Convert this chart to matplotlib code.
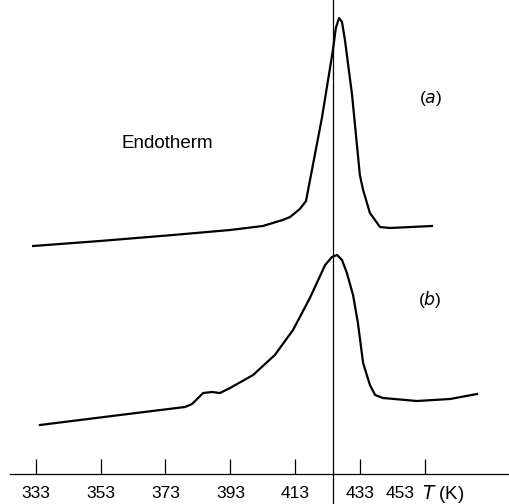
import numpy as np
import matplotlib.pyplot as plt
import matplotlib.transforms as mtransforms

plt.rcParams['font.family'] = ['Liberation Sans', 'DejaVu Sans']

# temperature (K) and heat flow (arbitrary units, endotherm up)
T_a = [332.2, 352.8, 375.3, 392.9, 403.0, 409.1, 411.4, 414.4, 416.3, 421.2, 424.6,
       425.5, 426.5, 427.4, 428.3, 430.5, 432.9, 433.9, 436.0, 439.1, 442.2, 455.1]
q_a = [22.8, 23.3, 23.9, 24.4, 24.8, 25.4, 25.7, 26.5, 27.3, 35.6, 42.4,
       44.6, 45.6, 45.2, 43.4, 37.9, 29.9, 28.4, 26.1, 24.7, 24.6, 24.8]

T_b = [334.3, 359.0, 379.0, 381.2, 384.6, 387.3, 389.8, 392.9, 400.0, 406.7, 412.3,
       417.5, 422.2, 424.3, 425.9, 427.4, 428.9, 430.8, 432.3, 433.9, 436.0, 437.6,
       440.0, 450.5, 460.7, 469.0]
q_b = [4.9, 5.9, 6.7, 7.0, 8.1, 8.2, 8.1, 8.6, 9.9, 11.9, 14.4,
       17.6, 20.9, 21.7, 21.9, 21.4, 20.1, 17.9, 15.1, 11.1, 8.9, 7.9,
       7.6, 7.3, 7.5, 8.0]

ticks = [333, 353, 373, 393, 413, 433, 453]
T_mark = 424.6

fig = plt.figure(figsize=(5.09, 5.04), dpi=100)
ax = fig.add_axes([0, 30 / 504, 1, 474 / 504])
ax.set_xlim(322.0, 478.86)
ax.set_ylim(0, 47.4)

ax.plot(T_a, q_a, color='black', lw=1.6, solid_joinstyle='round')
ax.plot(T_b, q_b, color='black', lw=1.6, solid_joinstyle='round')
ax.axvline(T_mark, ymin=-30 / 474, ymax=1.0, color='black', lw=0.9, clip_on=False)

for s in ['top', 'right', 'left']:
    ax.spines[s].set_visible(False)
ax.spines['bottom'].set_bounds(325.1, 478.86)
ax.spines['bottom'].set_linewidth(0.9)
ax.set_yticks([])
ax.set_xticks(ticks)
ax.set_xticklabels([str(t) for t in ticks])
ax.tick_params(axis='x', direction='in', length=11, width=0.9, pad=9, labelsize=12.5)

# the last label sits a little to the left, to leave room for the unit
last = ax.xaxis.get_major_ticks()[-1].label1
last.set_transform(last.get_transform() +
                   mtransforms.ScaledTranslation(-0.25, 0, fig.dpi_scale_trans))

ax.text(452.2, -2.0, '$\\it{T}$ (K)', fontsize=13.5, ha='left', va='center', clip_on=False)
ax.text(373.5, 33.1, 'Endotherm', fontsize=13.5, ha='center', va='center')
ax.text(454.8, 37.6, '($\\it{a}$)', fontsize=12.5, ha='center', va='center')
ax.text(454.5, 17.4, '($\\it{b}$)', fontsize=12.5, ha='center', va='center')

fig.savefig('out.png', dpi=100)
